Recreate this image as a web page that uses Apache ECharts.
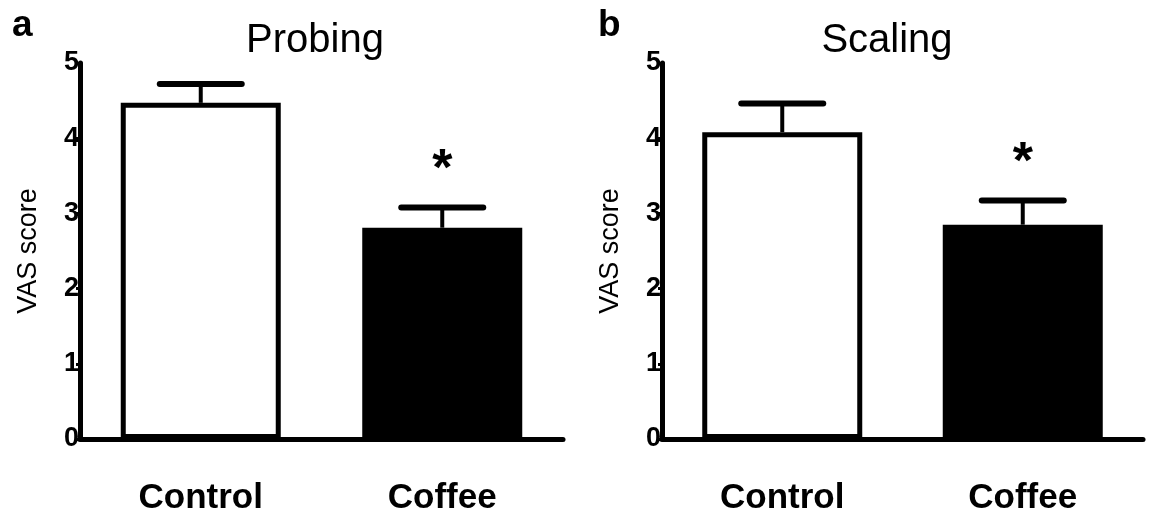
<!DOCTYPE html>
<html>
<head>
<meta charset="utf-8">
<script src="https://cdn.jsdelivr.net/npm/echarts@6/dist/echarts.min.js"></script>
<style>html,body{margin:0;padding:0;background:#fff;}#c{width:1153px;height:516px;}</style>
</head>
<body>
<div id="c"></div>
<script>
var categories = ['Control', 'Coffee'];
var panelTitles = ['Probing', 'Scaling'];
var panelLetters = ['a', 'b'];
var probingMeans = [4.47, 2.81];
var probingErrors = [0.25, 0.27];
var scalingMeans = [4.08, 2.85];
var scalingErrors = [0.38, 0.32];
var significance = ['', '*'];
var yTicks = [0, 1, 2, 3, 4, 5];

var chart = echarts.init(document.getElementById('c'));
var tickFont = '"Liberation Sans Narrow", "Liberation Sans", Arial, sans-serif';
var font = '"Liberation Sans", Arial, Helvetica, sans-serif';

function errSeries(idx, means, errs) {
  return {
    type: 'custom', xAxisIndex: idx, yAxisIndex: idx, z: 5,
    data: means.map(function (m, i) { return [i, m, errs[i]]; }),
    renderItem: function (params, api) {
      var i = api.value(0), m = api.value(1), e = api.value(2);
      var p0 = api.coord([i, m]);
      var p1 = api.coord([i, m + e]);
      var half = 41;
      var children = [
        {type: 'line', shape: {x1: p0[0], y1: p0[1], x2: p1[0], y2: p1[1]}, style: {stroke: '#000', lineWidth: 4}},
        {type: 'line', shape: {x1: p1[0] - half, y1: p1[1], x2: p1[0] + half, y2: p1[1]}, style: {stroke: '#000', lineWidth: 6, lineCap: 'round'}}
      ];
      if (significance[i]) {
        children.push({type: 'text', x: p1[0], y: p1[1] - 37, style: {text: significance[i], fill: '#000', font: 'bold 52px ' + font, align: 'center', verticalAlign: 'middle'}});
      }
      return {type: 'group', children: children};
    }
  };
}

function barSeries(idx, means) {
  return {
    type: 'bar', xAxisIndex: idx, yAxisIndex: idx, barWidth: 160, z: 2,
    data: means.map(function (m, i) {
      return {value: m, itemStyle: {color: i === 0 ? '#fff' : '#000', borderColor: '#000', borderWidth: 5}};
    })
  };
}

var grids = [
  {left: 80, right: 590, top: 63, bottom: 76},
  {left: 662, right: 10, top: 63, bottom: 76}
];

function xAxis(idx) {
  return {
    type: 'category', gridIndex: idx, data: categories,
    axisLine: {lineStyle: {color: '#000', width: 5}},
    axisTick: {alignWithLabel: true, length: 5, lineStyle: {color: '#000', width: 3}},
    axisLabel: {color: '#000', fontSize: 35, fontWeight: 'bold', fontFamily: font, margin: 42}
  };
}
function yAxis(idx) {
  return {
    type: 'value', gridIndex: idx, min: yTicks[0], max: yTicks[yTicks.length - 1], interval: 1,
    name: 'VAS score', nameLocation: 'middle', nameGap: 38, nameRotate: 90,
    nameTextStyle: {color: '#000', fontSize: 27, fontFamily: font},
    splitLine: {show: false},
    axisLine: {show: true, lineStyle: {color: '#000', width: 5}},
    axisTick: {show: true, length: 4, lineStyle: {color: '#000', width: 3}},
    axisLabel: {color: '#000', fontSize: 27, fontWeight: 'bold', fontFamily: tickFont, margin: 1}
  };
}

chart.setOption({
  animation: false,
  backgroundColor: '#fff',
  title: [
    {text: panelTitles[0], left: 310, top: 16, textAlign: 'center', textStyle: {fontSize: 40, fontWeight: 'normal', fontFamily: font, color: '#000'}},
    {text: panelTitles[1], left: 882, top: 16, textAlign: 'center', textStyle: {fontSize: 40, fontWeight: 'normal', fontFamily: font, color: '#000'}},
    {text: panelLetters[0], left: 7, top: 2, textStyle: {fontSize: 37, fontWeight: 'bold', fontFamily: font, color: '#000'}},
    {text: panelLetters[1], left: 593, top: 2, textStyle: {fontSize: 37, fontWeight: 'bold', fontFamily: font, color: '#000'}}
  ],
  grid: grids,
  xAxis: [xAxis(0), xAxis(1)],
  yAxis: [yAxis(0), yAxis(1)],
  series: [
    barSeries(0, probingMeans), errSeries(0, probingMeans, probingErrors),
    barSeries(1, scalingMeans), errSeries(1, scalingMeans, scalingErrors)
  ]
});
</script>
</body>
</html>
